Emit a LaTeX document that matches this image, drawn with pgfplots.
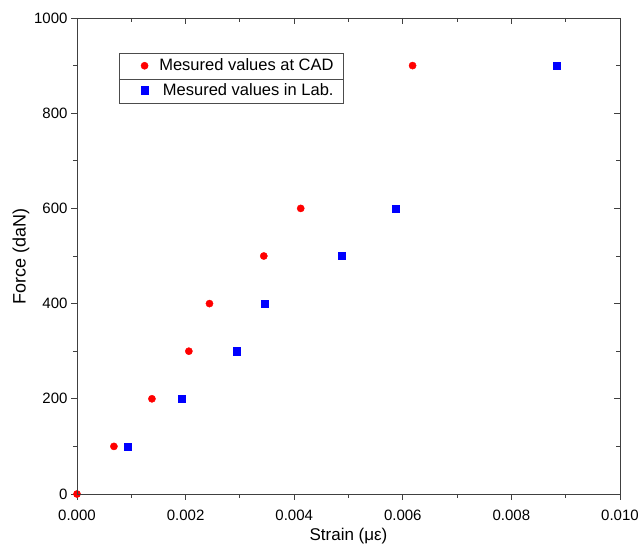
\documentclass[border=0pt]{standalone}
\usepackage{pgfplots}
\pgfplotsset{compat=1.18}
\usepackage{fontspec}
\setmainfont{Liberation Sans}
\begin{document}
\begin{tikzpicture}
\useasboundingbox (-77bp,-53bp) rectangle (563bp,494bp);
\pgfplotsset{
  common/.style={
    scale only axis, width=543bp, height=476bp,
    xmin=0, xmax=0.010, ymin=0, ymax=1000,
    xtick={0,0.002,...,0.0101}, ytick={0,200,...,1000},
    minor x tick num=1, minor y tick num=1,
    major tick length=6bp, minor tick length=4bp,
    scaled x ticks=false, scaled y ticks=false,
    axis line style={line width=0.9pt, black!75},
    every tick/.style={line width=0.9pt, black!75},
  }
}
\begin{axis}[common,
  tick align=outside, xtick pos=bottom, ytick pos=left,
  /pgf/number format/assume math mode=true,
  /pgf/number format/1000 sep={},
  xticklabel style={/pgf/number format/fixed, /pgf/number format/fixed zerofill, /pgf/number format/precision=3, font=\fontsize{15bp}{17bp}\selectfont, yshift=-7bp},
  yticklabel style={font=\fontsize{15bp}{17bp}\selectfont},
  xlabel={Strain (με)}, ylabel={Force (daN)},
  xlabel style={font=\fontsize{17bp}{19bp}\selectfont, yshift=0bp},
  ylabel style={font=\fontsize{18bp}{20bp}\selectfont, yshift=-2bp},
  legend style={at={(0.297,0.874)}, anchor=center, draw=none, fill=none,
    font=\fontsize{16.5bp}{19bp}\selectfont, row sep=7bp, inner sep=1pt},
  legend cell align=right,
]
\draw[black!70, line width=0.6pt] (rel axis cs:0.0773,0.8214) rectangle (rel axis cs:0.490,0.9265);
\draw[black!70, line width=0.6pt] (rel axis cs:0.0773,0.8718) -- (rel axis cs:0.490,0.8718);
\addplot[only marks, mark=*, mark size=3.6bp, color=red, mark options={draw=red, fill=red}]
  coordinates {(0,0) (0.00068,100) (0.00138,200) (0.00206,300) (0.00244,400) (0.00344,500) (0.00412,600) (0.00618,900)};
\addlegendentry{\ \ Mesured values at CAD}
\addplot[only marks, mark=square*, mark size=3.6bp, color=blue, mark options={draw=blue, fill=blue}]
  coordinates {(0.00094,100) (0.00193,200) (0.00294,300) (0.00346,400) (0.00487,500) (0.00587,600) (0.00883,900)};
\addlegendentry{\ \ Mesured values in Lab.}
\end{axis}
\begin{axis}[common,
  tick align=inside, xtick pos=top, ytick pos=right,
  xticklabels={}, yticklabels={},
]
\end{axis}
\end{tikzpicture}
\end{document}
